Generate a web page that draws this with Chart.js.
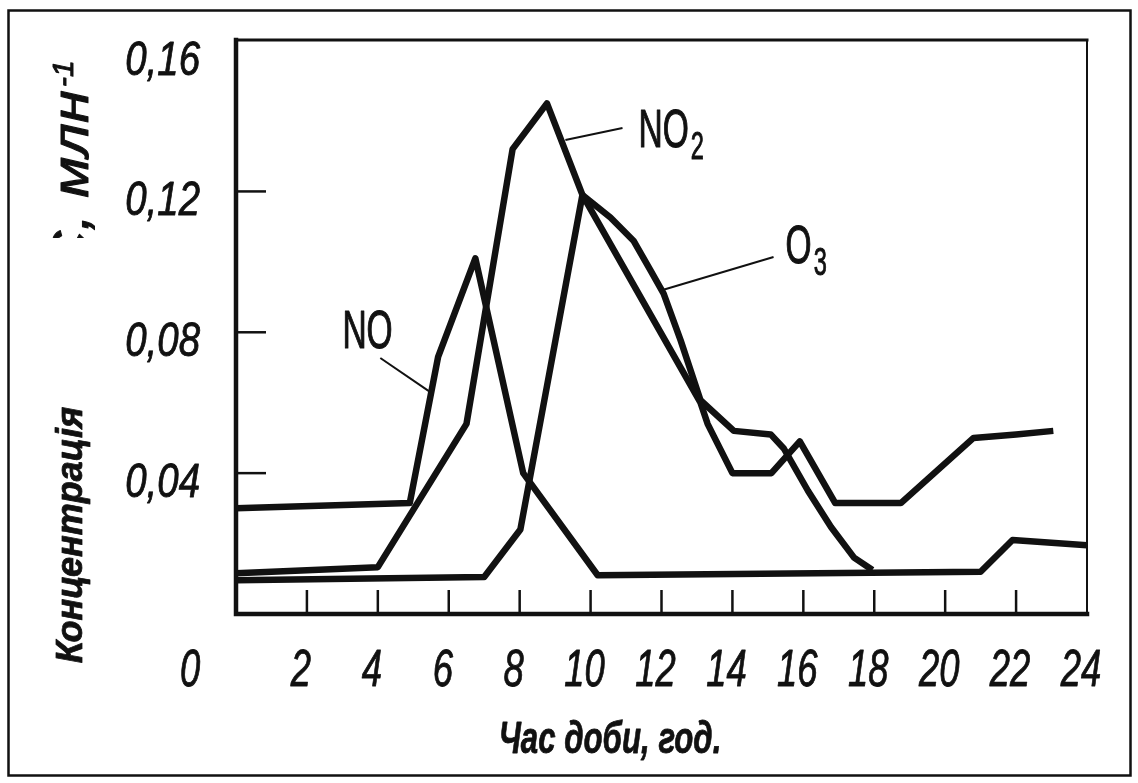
<!DOCTYPE html>
<html>
<head>
<meta charset="utf-8">
<script src="https://cdn.jsdelivr.net/npm/chart.js@4.4.1/dist/chart.umd.min.js"></script>
<style>
  html, body { margin: 0; padding: 0; background: #fff; }
  canvas { display: block; }
</style>
</head>
<body>
<canvas id="chart" width="1138" height="783"></canvas>
<script>
// Концентрація NO, NO2, O3 протягом доби
const X_TICKS = [0, 2, 4, 6, 8, 10, 12, 14, 16, 18, 20, 22, 24];
const Y_TICKS = [0.04, 0.08, 0.12, 0.16];

const NO_HOURS = [0, 4.9, 5.7, 6.75, 8.1, 10.2, 21.0, 21.9, 24];
const NO_VALUES = [0.030, 0.0315, 0.073, 0.101, 0.040, 0.011, 0.012, 0.021, 0.0195];

const NO2_HOURS = [0, 4.0, 6.5, 7.8, 8.77, 9.77, 13.1, 13.3, 14.0, 15.1, 15.9, 16.9, 18.75, 20.8, 22.0, 23.05];
const NO2_VALUES = [0.0116, 0.0133, 0.054, 0.132, 0.145, 0.119, 0.060, 0.054, 0.040, 0.040, 0.049, 0.0315, 0.0315, 0.050, 0.051, 0.052];

const O3_HOURS = [0, 7.0, 8.02, 9.77, 10.56, 11.21, 11.69, 12.06, 12.54, 13.1, 14.04, 15.08, 15.45, 16.13, 16.78, 17.43, 17.95];
const O3_VALUES = [0.0096, 0.0105, 0.024, 0.119, 0.1126, 0.106, 0.0976, 0.091, 0.0777, 0.0607, 0.052, 0.051, 0.047, 0.035, 0.0247, 0.016, 0.0125];

const INK = '#111';
const SANS = "'Liberation Sans', Arial, sans-serif";

// підписи кривих: текст, точка тексту і виноска (у годинах / млн-1)
const CURVE_LABELS = [
    { text: 'NO', sub: '', at: [3.0, 0.0755], lead: [[4.07, 0.0727], [5.48, 0.063]] },
    { text: 'NO', sub: '2', at: [11.35, 0.1326], lead: [[9.29, 0.1346], [10.9, 0.138]] },
    { text: 'O', sub: '3', at: [15.5, 0.0997], lead: [[12.03, 0.092], [15.16, 0.1014]] }
];

const toPoints = (xs, ys) => xs.map((x, i) => ({ x, y: ys[i] }));
const fmtY = v => v.toFixed(2).replace('.', ',');

// текст зі стисненням по горизонталі (вузький шрифт), з потовщенням контуром
function drawText(ctx, text, x, y, font, sx, align = 'left', weight = 0) {
    ctx.save();
    ctx.font = font;
    const w = ctx.measureText(text).width * sx;
    const left = align === 'center' ? x - w / 2 : align === 'right' ? x - w : x;
    ctx.translate(left, y);
    ctx.scale(sx, 1);
    ctx.textAlign = 'left';
    ctx.fillText(text, 0, 0);
    if (weight) {
        ctx.lineWidth = weight;
        ctx.lineJoin = 'round';
        ctx.strokeText(text, 0, 0);
    }
    ctx.restore();
    return w;
}

const framePlugin = {
    id: 'frame',
    afterDatasetsDraw(chart) {
        const { ctx, chartArea: a, scales: { x, y } } = chart;
        ctx.save();
        ctx.strokeStyle = INK;
        ctx.fillStyle = INK;
        ctx.textBaseline = 'alphabetic';

        // рамка графіка
        ctx.lineCap = 'square';
        ctx.lineWidth = 4.5;
        ctx.beginPath();
        ctx.moveTo(a.left, a.top); ctx.lineTo(a.left, a.bottom); ctx.lineTo(a.right, a.bottom);
        ctx.stroke();
        ctx.lineWidth = 3;
        ctx.beginPath(); ctx.moveTo(a.left, a.top); ctx.lineTo(a.right, a.top); ctx.stroke();
        ctx.lineWidth = 2;
        ctx.beginPath(); ctx.moveTo(a.right, a.top); ctx.lineTo(a.right, a.bottom); ctx.stroke();

        // внутрішні поділки
        ctx.lineWidth = 2.5;
        ctx.lineCap = 'butt';
        Y_TICKS.filter(v => v < 0.16).forEach(v => {
            const py = y.getPixelForValue(v);
            ctx.beginPath(); ctx.moveTo(a.left, py); ctx.lineTo(a.left + 30, py); ctx.stroke();
        });
        X_TICKS.filter(v => v > 0 && v < 24).forEach(v => {
            const px = x.getPixelForValue(v);
            ctx.beginPath(); ctx.moveTo(px, a.bottom); ctx.lineTo(px, a.bottom - 24); ctx.stroke();
        });

        // підписи поділок
        X_TICKS.forEach(v => {
            const px = x.getPixelForValue(v) + (v === 0 ? -46 : -6);
            drawText(ctx, String(v), px, a.bottom + 72, 'italic 52px ' + SANS, 0.7, 'center', 0.9);
        });
        Y_TICKS.forEach(v => {
            drawText(ctx, fmtY(v), a.left - 36, y.getPixelForValue(v) + 24, 'italic 48px ' + SANS, 0.8, 'right', 0.9);
        });

        // підписи кривих
        CURVE_LABELS.forEach(l => {
            const px = x.getPixelForValue(l.at[0]);
            const py = y.getPixelForValue(l.at[1]);
            const w = drawText(ctx, l.text, px, py, '54px ' + SANS, 0.62, 'left', 1.2);
            if (l.sub) drawText(ctx, l.sub, px + w + 2, py + 12, '38px ' + SANS, 0.62, 'left', 1);
            ctx.lineWidth = 2;
            ctx.beginPath();
            ctx.moveTo(x.getPixelForValue(l.lead[0][0]), y.getPixelForValue(l.lead[0][1]));
            ctx.lineTo(x.getPixelForValue(l.lead[1][0]), y.getPixelForValue(l.lead[1][1]));
            ctx.stroke();
        });

        // назви осей
        drawText(ctx, 'Час доби, год.', 610, 753, 'italic bold 44px ' + SANS, 0.71, 'center', 0.8);

        ctx.save();
        ctx.translate(72, 535);
        ctx.rotate(-Math.PI / 2);
        ctx.textBaseline = 'middle';
        drawText(ctx, 'Концентрація', 0, 0, 'italic bold 36px ' + SANS, 1, 'center', 0.8);
        ctx.restore();

        // залишок старого підпису одиниць (нижня частина перекрита)
        ctx.save();
        ctx.beginPath(); ctx.rect(20, 20, 110, 218); ctx.clip();
        ctx.translate(88, 240);
        ctx.rotate(-Math.PI / 2);
        drawText(ctx, 'С, млн', 150, 0, 'italic 52px ' + SANS, 1.15, 'right', 1);
        drawText(ctx, '-1', 153, -15, 'italic 30px ' + SANS, 1, 'left', 1);
        ctx.restore();

        // рамка сторінки
        ctx.lineWidth = 2.5;
        ctx.strokeRect(8.5, 10.5, 1122, 765);
        ctx.restore();
    }
};

new Chart(document.getElementById('chart'), {
    type: 'line',
    data: {
        datasets: [
            { label: 'NO', data: toPoints(NO_HOURS, NO_VALUES) },
            { label: 'NO2', data: toPoints(NO2_HOURS, NO2_VALUES) },
            { label: 'O3', data: toPoints(O3_HOURS, O3_VALUES) }
        ]
    },
    options: {
        responsive: false,
        animation: false,
        layout: { padding: { left: 0, right: 51, top: 40, bottom: 0 } },
        plugins: { legend: { display: false }, tooltip: { enabled: false } },
        elements: {
            point: { radius: 0 },
            line: { borderWidth: 6.5, borderColor: INK, tension: 0, borderJoinStyle: 'round', fill: false }
        },
        scales: {
            x: {
                type: 'linear', min: 0, max: 24,
                afterFit: s => { s.height = 169; },
                afterBuildTicks: s => { s.ticks = X_TICKS.map(v => ({ value: v })); },
                grid: { display: false, drawTicks: false },
                border: { display: false },
                ticks: { display: false }
            },
            y: {
                min: 0, max: 0.163,
                afterFit: s => { s.width = 236; },
                afterBuildTicks: s => { s.ticks = Y_TICKS.map(v => ({ value: v })); },
                grid: { display: false, drawTicks: false },
                border: { display: false },
                ticks: { display: false }
            }
        }
    },
    plugins: [framePlugin]
});
</script>
</body>
</html>
